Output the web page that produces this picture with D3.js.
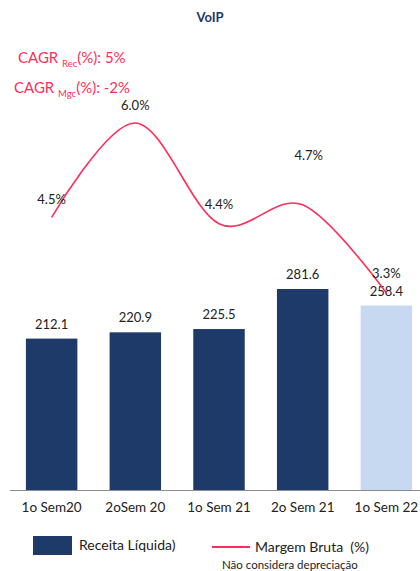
<!DOCTYPE html>
<html><head><meta charset="utf-8">
<script src="https://cdn.jsdelivr.net/npm/d3@7"></script>
<style>
body{margin:0;background:#fff;}
svg{display:block;font-family:Lato,"Open Sans",sans-serif;}
</style></head>
<body><svg id="c" width="420" height="571"></svg>
<script>
const categories = ["1o Sem20","2oSem 20","1o Sem 21","2o Sem 21","1o Sem 22"];
const receita = [212.1, 220.9, 225.5, 281.6, 258.4];
const margem = [4.5, 6.0, 4.4, 4.7, 3.3];
const receitaLabels = ["212.1","220.9","225.5","281.6","258.4"];
const margemLabels = ["4.5%","6.0%","4.4%","4.7%","3.3%"];

const svg = d3.select("#c");
const dark = "#1e3a68", light = "#c6d9f0", red = "#ff2d5a";

const x = d3.scaleBand().domain(categories).range([10, 428]).paddingInner(0.385).paddingOuter(0.19);
const y = d3.scaleLinear().domain([0, 281.6]).range([490, 289]);
const y2 = d3.scaleLinear().domain([3.3, 6.0]).range([293, 123]);

// title
svg.append("text").attr("x", 210).attr("y", 22).attr("text-anchor", "middle")
  .attr("font-size", 13).attr("font-weight", "bold").attr("fill", "#1f3864").text("VoIP");

// CAGR
function cagr(xp, yp, sub, val) {
  const t = svg.append("text").attr("x", xp).attr("y", yp).attr("fill", red).attr("font-size", 15);
  t.append("tspan").text("CAGR ");
  t.append("tspan").attr("font-size", 9.5).attr("dy", 4).text(sub);
  t.append("tspan").attr("dy", -4).text(val);
}
cagr(18, 63, "Rec", "(%): 5%");
cagr(14, 93, "Mgc", "(%): -2%");

// bars
svg.selectAll("rect.bar").data(receita).join("rect").attr("class", "bar")
  .attr("x", (d, i) => x(categories[i])).attr("width", x.bandwidth())
  .attr("y", d => y(d)).attr("height", d => y(0) - y(d))
  .attr("fill", (d, i) => i === 4 ? light : dark);

svg.selectAll("text.bl").data(receita).join("text").attr("class", "bl")
  .attr("x", (d, i) => x(categories[i]) + x.bandwidth() / 2)
  .attr("y", d => y(d) - 10).attr("text-anchor", "middle")
  .attr("font-size", 13).attr("fill", "#222").text((d, i) => receitaLabels[i]);

// axis
const xAxis = d3.axisBottom(x).tickSize(0).tickPadding(12);
const ag = svg.append("g").attr("transform", "translate(0,490)").call(xAxis);
ag.select(".domain").attr("d", "M10,0.5H420").attr("stroke", "#8c8c8c");
ag.selectAll("text").attr("font-size", 13.5).attr("fill", "#222").attr("font-family", "Lato,'Open Sans',sans-serif");

// line
const cx = (d, i) => x(categories[i]) + x.bandwidth() / 2;
const line = d3.line().x(cx).y(d => y2(d)).curve(d3.curveCardinal.tension(0));
svg.append("path").datum(margem).attr("d", line).attr("fill", "none")
  .attr("stroke", red).attr("stroke-width", 1.6);

const labelDy = [-18, -18, -20, -50, -20];
svg.selectAll("text.ml").data(margem).join("text").attr("class", "ml")
  .attr("x", (d, i) => cx(d, i) + (i === 3 ? 6 : 0))
  .attr("y", (d, i) => y2(d) + labelDy[i] + 5).attr("text-anchor", "middle")
  .attr("font-size", 13).attr("fill", "#222").text((d, i) => margemLabels[i]);

// legend
svg.append("rect").attr("x", 33).attr("y", 536).attr("width", 39).attr("height", 19).attr("fill", dark);
svg.append("text").attr("x", 79).attr("y", 550).attr("font-size", 14).attr("fill", "#222").text("Receita Líquida)");
svg.append("line").attr("x1", 212).attr("x2", 250).attr("y1", 547).attr("y2", 547).attr("stroke", red).attr("stroke-width", 2);
svg.append("text").attr("x", 255).attr("y", 552).attr("font-size", 14).attr("fill", "#222").attr("xml:space", "preserve").text("Margem Bruta  (%)");
svg.append("text").attr("x", 222).attr("y", 569).attr("font-size", 11.5).attr("fill", "#222").text("Não considera depreciação");
</script></body></html>
